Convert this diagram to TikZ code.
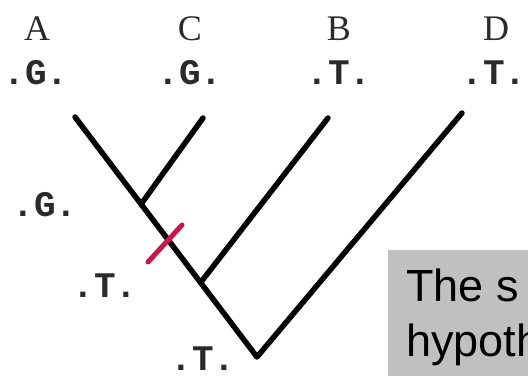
\documentclass[tikz,border=0pt]{standalone}
\usepackage{fontspec}
\setmainfont{Liberation Serif}
\newfontfamily\monob{Liberation Mono}
\newfontfamily\sansf{Liberation Sans}
\usetikzlibrary{calc}
\definecolor{boxgray}{HTML}{C0C0C0}
\definecolor{markred}{HTML}{C8174A}
\definecolor{labink}{HTML}{2A2A2A}
\begin{document}
\begin{tikzpicture}[x=1pt,y=-1pt,
  taxon/.style={anchor=base,inner sep=0pt,text=labink,font=\fontsize{36}{36}\selectfont},
  state/.style={anchor=base,inner sep=0pt,text=labink,font=\monob\bfseries\fontsize{36}{36}\selectfont},
  branch/.style={line width=5.5pt,line cap=round,line join=round,black},
  boxtext/.style={anchor=base west,inner sep=0pt,text=black,font=\sansf\fontsize{45}{45}\selectfont}]
\useasboundingbox (0,0) rectangle (528,379);
\clip (0,0) rectangle (528,379);
% taxon names
\node[taxon] (nA) at (37,41) {A};
\node[taxon] (nC) at (190,41) {C};
\node[taxon] (nB) at (339,41) {B};
\node[taxon] (nD) at (496,41) {D};
% character states at tips
\node[state] (sA) at (36,85) {.G.};
\node[state] (sC) at (190,85) {.G.};
\node[state] (sB) at (339,85) {.T.};
\node[state] (sD) at (494,85) {.T.};
% ancestral states
\node[state] (sCA) at (45,217) {.G.};
\node[state] (sBCA) at (105,298) {.T.};
\node[state] (sRoot) at (203,371) {.T.};
% tree
\coordinate (tipA) at (75,117);
\coordinate (tipC) at (203,118);
\coordinate (tipB) at (328,118);
\coordinate (tipD) at (462,113);
\coordinate (root) at (257,357);
\coordinate (jC) at ($(tipA)!0.363!(root)$);
\coordinate (jB) at ($(tipA)!0.69!(root)$);
\draw[branch] (tipA) -- (root) -- (tipD);
\draw[branch] (jC) -- (tipC);
\draw[branch] (jB) -- (tipB);
% change mark
\coordinate (m1) at (148,262);
\coordinate (m2) at (182,225);
\draw[line width=5pt,line cap=round,markred] (m1) -- (m2);
% gray text box
\node[fill=boxgray,minimum width=160pt,minimum height=126pt,anchor=north west,inner sep=0pt] (box) at (388,250) {};
\node[boxtext] (t1) at (406,302) {The s};
\node[boxtext] (t2) at (406,357) {hypoth};
\end{tikzpicture}
\end{document}
